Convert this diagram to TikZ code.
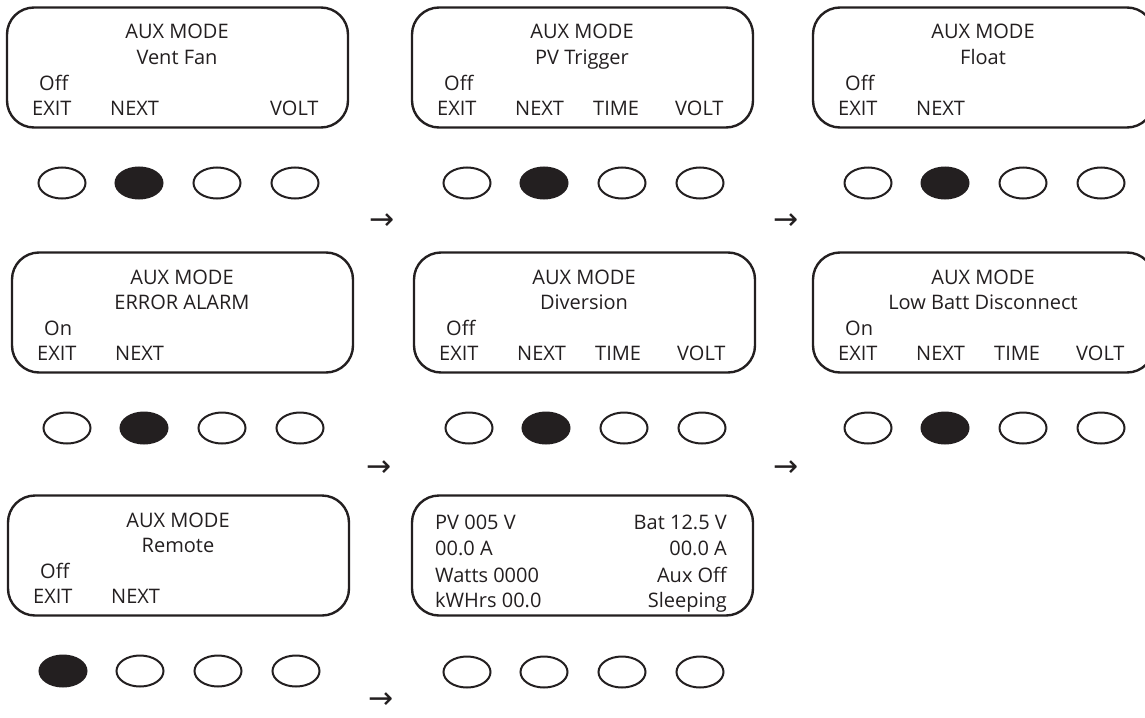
\documentclass[tikz,border=0pt]{standalone}
\usepackage{fontspec}
\setmainfont{Open Sans}
\newfontfamily\arrowfont{DejaVu Sans}
\usetikzlibrary{shapes.geometric}
\definecolor{ink}{HTML}{231F20}
\tikzset{
  panel/.style={draw=ink, line width=2.4pt, rounded corners=27pt, minimum width=341pt, minimum height=120pt, inner sep=0pt},
  lbl/.style={inner sep=0pt, text=ink, font=\fontsize{20}{23}\selectfont},
  btn/.style={ellipse, draw=ink, line width=2pt, minimum width=47pt, minimum height=31pt, inner sep=0pt},
  arr/.style={inner sep=0pt, text=ink, font=\arrowfont\fontsize{30}{32}\selectfont},
}
\newcommand{\auxpanel}[6]{%
  \node[panel] (#1) at (#2+170.5,#3+60.5) {};
  \node[lbl, anchor=base] (#1-title) at (#2+170,#3+32) {AUX MODE};
  \node[lbl, anchor=base] (#1-mode) at (#2+170,#3+57) {#4};
  \node[lbl, anchor=base west] (#1-state) at (#2+32,#3+83) {#5};
  \node[lbl, anchor=base west] (#1-exit) at (#2+25,#3+108) {EXIT};
  \node[lbl, anchor=base west] (#1-next) at (#2+103,#3+108) {NEXT};
  \foreach \i/\dx in {1/55,2/132,3/210,4/288}{
    \ifnum\i=#6\relax\def\bfill{ink}\else\def\bfill{white}\fi
    \node[btn, fill=\bfill] (#1-b\i) at (#2+\dx,#3+176) {};
  }
}
\newcommand{\timekey}[3]{\node[lbl, anchor=base west] (#1-time) at (#2+181,#3+108) {TIME};}
\newcommand{\voltkey}[3]{\node[lbl, anchor=base west] (#1-volt) at (#2+263,#3+108) {VOLT};}
\begin{document}
\begin{tikzpicture}[x=1pt,y=-1pt]
\useasboundingbox (0,0) rectangle (1145,717);
\clip (0,0) rectangle (1145,717);
\fill[white] (0,0) rectangle (1145,717);
% row 1
\auxpanel{vent}{7}{7}{Vent Fan}{Off}{2}
\voltkey{vent}{7}{7}
\auxpanel{pvt}{412}{7}{PV Trigger}{Off}{2}
\timekey{pvt}{412}{7}
\voltkey{pvt}{412}{7}
\auxpanel{float}{813}{7}{Float}{Off}{2}
% row 2
\auxpanel{err}{12}{252}{ERROR ALARM}{On}{2}
\auxpanel{div}{414}{252}{Diversion}{Off}{2}
\timekey{div}{414}{252}
\voltkey{div}{414}{252}
\auxpanel{lbd}{813}{252}{Low Batt Disconnect}{On}{2}
\timekey{lbd}{813}{252}
\voltkey{lbd}{813}{252}
% row 3
\auxpanel{rem}{8}{495}{Remote}{Off}{1}
% status panel
\node[panel] (status) at (582.5,555.5) {};
\node[lbl, anchor=base west] (s-pv) at (435,529) {PV 005 V};
\node[lbl, anchor=base west] (s-pva) at (435,555) {00.0 A};
\node[lbl, anchor=base west] (s-w) at (435,582) {Watts 0000};
\node[lbl, anchor=base west] (s-kwh) at (435,607) {kWHrs 00.0};
\node[lbl, anchor=base east] (s-bat) at (727,529) {Bat 12.5 V};
\node[lbl, anchor=base east] (s-bata) at (727,555) {00.0 A};
\node[lbl, anchor=base east] (s-aux) at (727,582) {Aux Off};
\node[lbl, anchor=base east] (s-sleep) at (727,607) {Sleeping};
\foreach \i/\dx in {1/55,2/132,3/210,4/288}{
  \node[btn, fill=white] (status-b\i) at (412+\dx,672) {};
}
% arrows
\node[arr] (arrow1) at (382,222) {→};
\node[arr] (arrow2) at (786,222) {→};
\node[arr] (arrow3) at (379,469) {→};
\node[arr] (arrow4) at (786,469) {→};
\node[arr] (arrow5) at (381,701) {→};
\end{tikzpicture}
\end{document}
